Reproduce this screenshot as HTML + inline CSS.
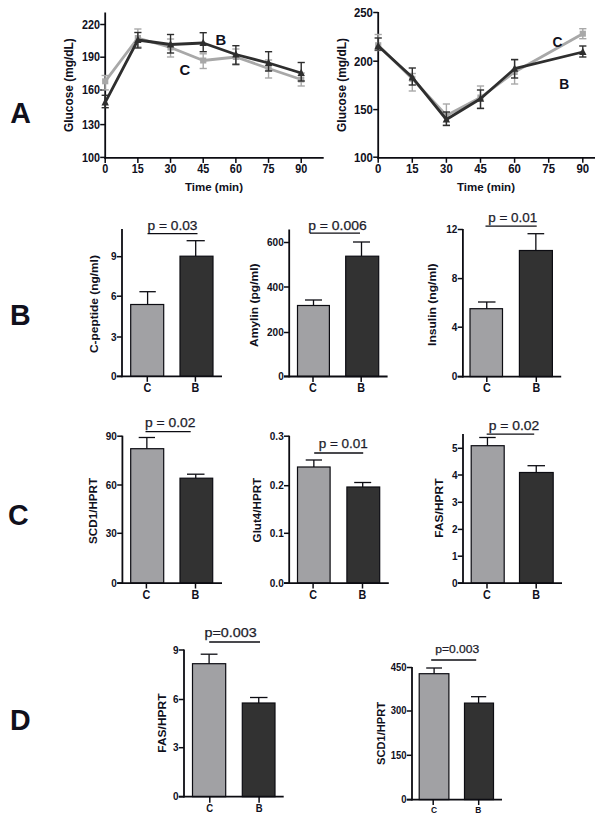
<!DOCTYPE html>
<html lang="en">
<head>
<meta charset="utf-8">
<title>Figure</title>
<style>
html,body{margin:0;padding:0;background:#fff;}
body{width:604px;height:822px;overflow:hidden;}
svg{display:block;font-family:"Liberation Sans", Arial, sans-serif;}
</style>
</head>
<body>
<svg width="604" height="822" viewBox="0 0 604 822">
<rect x="0" y="0" width="604" height="822" fill="#ffffff"/>
<text x="10.3" y="122.6" font-size="28.6" font-weight="bold" text-anchor="start" fill="#10101c">A</text>
<text x="10.0" y="324.7" font-size="28.6" font-weight="bold" text-anchor="start" fill="#10101c">B</text>
<text x="8.0" y="525.0" font-size="28.6" font-weight="bold" text-anchor="start" fill="#10101c">C</text>
<text x="10.0" y="730.2" font-size="28.6" font-weight="bold" text-anchor="start" fill="#10101c">D</text>
<line x1="105.2" y1="12.5" x2="105.2" y2="158.8" stroke="#0c0c12" stroke-width="1.8" stroke-linecap="butt"/>
<line x1="104.3" y1="157.9" x2="323.7" y2="157.9" stroke="#0c0c12" stroke-width="1.8" stroke-linecap="butt"/>
<line x1="100.2" y1="24.5" x2="105.2" y2="24.5" stroke="#0c0c12" stroke-width="1.5" stroke-linecap="butt"/>
<text x="0" y="0" font-size="10.8" font-weight="bold" text-anchor="end" fill="#10101c" transform="translate(99.9 28.712) scale(1 1.1)">220</text>
<line x1="100.2" y1="57.2" x2="105.2" y2="57.2" stroke="#0c0c12" stroke-width="1.5" stroke-linecap="butt"/>
<text x="0" y="0" font-size="10.8" font-weight="bold" text-anchor="end" fill="#10101c" transform="translate(99.9 61.412000000000006) scale(1 1.1)">190</text>
<line x1="100.2" y1="90" x2="105.2" y2="90" stroke="#0c0c12" stroke-width="1.5" stroke-linecap="butt"/>
<text x="0" y="0" font-size="10.8" font-weight="bold" text-anchor="end" fill="#10101c" transform="translate(99.9 94.212) scale(1 1.1)">160</text>
<line x1="100.2" y1="124.6" x2="105.2" y2="124.6" stroke="#0c0c12" stroke-width="1.5" stroke-linecap="butt"/>
<text x="0" y="0" font-size="10.8" font-weight="bold" text-anchor="end" fill="#10101c" transform="translate(99.9 128.81199999999998) scale(1 1.1)">130</text>
<line x1="100.2" y1="157.4" x2="105.2" y2="157.4" stroke="#0c0c12" stroke-width="1.5" stroke-linecap="butt"/>
<text x="0" y="0" font-size="10.8" font-weight="bold" text-anchor="end" fill="#10101c" transform="translate(99.9 161.612) scale(1 1.1)">100</text>
<line x1="105.2" y1="157.9" x2="105.2" y2="162.9" stroke="#0c0c12" stroke-width="1.5" stroke-linecap="butt"/>
<text x="0" y="0" font-size="10.8" font-weight="bold" text-anchor="middle" fill="#10101c" transform="translate(105.2 173.1) scale(1 1.1)">0</text>
<line x1="137.87" y1="157.9" x2="137.87" y2="162.9" stroke="#0c0c12" stroke-width="1.5" stroke-linecap="butt"/>
<text x="0" y="0" font-size="10.8" font-weight="bold" text-anchor="middle" fill="#10101c" transform="translate(137.87 173.1) scale(1 1.1)">15</text>
<line x1="170.54000000000002" y1="157.9" x2="170.54000000000002" y2="162.9" stroke="#0c0c12" stroke-width="1.5" stroke-linecap="butt"/>
<text x="0" y="0" font-size="10.8" font-weight="bold" text-anchor="middle" fill="#10101c" transform="translate(170.54000000000002 173.1) scale(1 1.1)">30</text>
<line x1="203.21" y1="157.9" x2="203.21" y2="162.9" stroke="#0c0c12" stroke-width="1.5" stroke-linecap="butt"/>
<text x="0" y="0" font-size="10.8" font-weight="bold" text-anchor="middle" fill="#10101c" transform="translate(203.21 173.1) scale(1 1.1)">45</text>
<line x1="235.88" y1="157.9" x2="235.88" y2="162.9" stroke="#0c0c12" stroke-width="1.5" stroke-linecap="butt"/>
<text x="0" y="0" font-size="10.8" font-weight="bold" text-anchor="middle" fill="#10101c" transform="translate(235.88 173.1) scale(1 1.1)">60</text>
<line x1="268.55" y1="157.9" x2="268.55" y2="162.9" stroke="#0c0c12" stroke-width="1.5" stroke-linecap="butt"/>
<text x="0" y="0" font-size="10.8" font-weight="bold" text-anchor="middle" fill="#10101c" transform="translate(268.55 173.1) scale(1 1.1)">75</text>
<line x1="301.22" y1="157.9" x2="301.22" y2="162.9" stroke="#0c0c12" stroke-width="1.5" stroke-linecap="butt"/>
<text x="0" y="0" font-size="10.8" font-weight="bold" text-anchor="middle" fill="#10101c" transform="translate(301.22 173.1) scale(1 1.1)">90</text>
<text x="73" y="85.1" font-size="11.9" font-weight="bold" text-anchor="middle" fill="#10101c" transform="rotate(-90 73 85.1)">Glucose (mg/dL)</text>
<text x="214" y="190.9" font-size="11.5" font-weight="bold" text-anchor="middle" fill="#10101c">Time (min)</text>
<polyline points="105.20,81.30 137.87,38.00 170.54,47.50 203.21,60.50 235.88,57.00 268.55,68.50 301.22,79.50" fill="none" stroke="#a8a8a8" stroke-width="2.8" stroke-linejoin="round"/>
<line x1="105.2" y1="75.5" x2="105.2" y2="89.9" stroke="#a8a8a8" stroke-width="1.4" stroke-linecap="butt"/>
<line x1="101.60000000000001" y1="75.5" x2="108.8" y2="75.5" stroke="#a8a8a8" stroke-width="1.4" stroke-linecap="butt"/>
<line x1="101.60000000000001" y1="89.9" x2="108.8" y2="89.9" stroke="#a8a8a8" stroke-width="1.4" stroke-linecap="butt"/>
<rect x="102.10" y="78.30" width="6.2" height="6" fill="#a8a8a8"/>
<line x1="137.87" y1="29" x2="137.87" y2="47" stroke="#a8a8a8" stroke-width="1.4" stroke-linecap="butt"/>
<line x1="134.27" y1="29" x2="141.47" y2="29" stroke="#a8a8a8" stroke-width="1.4" stroke-linecap="butt"/>
<line x1="134.27" y1="47" x2="141.47" y2="47" stroke="#a8a8a8" stroke-width="1.4" stroke-linecap="butt"/>
<rect x="134.77" y="35.00" width="6.2" height="6" fill="#a8a8a8"/>
<line x1="170.54000000000002" y1="39" x2="170.54000000000002" y2="57" stroke="#a8a8a8" stroke-width="1.4" stroke-linecap="butt"/>
<line x1="166.94000000000003" y1="39" x2="174.14000000000001" y2="39" stroke="#a8a8a8" stroke-width="1.4" stroke-linecap="butt"/>
<line x1="166.94000000000003" y1="57" x2="174.14000000000001" y2="57" stroke="#a8a8a8" stroke-width="1.4" stroke-linecap="butt"/>
<rect x="167.44" y="44.50" width="6.2" height="6" fill="#a8a8a8"/>
<line x1="203.21" y1="53.8" x2="203.21" y2="68.5" stroke="#a8a8a8" stroke-width="1.4" stroke-linecap="butt"/>
<line x1="199.61" y1="53.8" x2="206.81" y2="53.8" stroke="#a8a8a8" stroke-width="1.4" stroke-linecap="butt"/>
<line x1="199.61" y1="68.5" x2="206.81" y2="68.5" stroke="#a8a8a8" stroke-width="1.4" stroke-linecap="butt"/>
<rect x="200.11" y="57.50" width="6.2" height="6" fill="#a8a8a8"/>
<line x1="235.88" y1="49" x2="235.88" y2="65" stroke="#a8a8a8" stroke-width="1.4" stroke-linecap="butt"/>
<line x1="232.28" y1="49" x2="239.48" y2="49" stroke="#a8a8a8" stroke-width="1.4" stroke-linecap="butt"/>
<line x1="232.28" y1="65" x2="239.48" y2="65" stroke="#a8a8a8" stroke-width="1.4" stroke-linecap="butt"/>
<rect x="232.78" y="54.00" width="6.2" height="6" fill="#a8a8a8"/>
<line x1="268.55" y1="60" x2="268.55" y2="78" stroke="#a8a8a8" stroke-width="1.4" stroke-linecap="butt"/>
<line x1="264.95" y1="60" x2="272.15000000000003" y2="60" stroke="#a8a8a8" stroke-width="1.4" stroke-linecap="butt"/>
<line x1="264.95" y1="78" x2="272.15000000000003" y2="78" stroke="#a8a8a8" stroke-width="1.4" stroke-linecap="butt"/>
<rect x="265.45" y="65.50" width="6.2" height="6" fill="#a8a8a8"/>
<line x1="301.22" y1="73" x2="301.22" y2="86" stroke="#a8a8a8" stroke-width="1.4" stroke-linecap="butt"/>
<line x1="297.62" y1="73" x2="304.82000000000005" y2="73" stroke="#a8a8a8" stroke-width="1.4" stroke-linecap="butt"/>
<line x1="297.62" y1="86" x2="304.82000000000005" y2="86" stroke="#a8a8a8" stroke-width="1.4" stroke-linecap="butt"/>
<rect x="298.12" y="76.50" width="6.2" height="6" fill="#a8a8a8"/>
<polyline points="105.20,102.40 137.87,40.00 170.54,44.50 203.21,43.00 235.88,54.50 268.55,63.00 301.22,73.00" fill="none" stroke="#2e2e2e" stroke-width="2.8" stroke-linejoin="round"/>
<line x1="105.2" y1="95.3" x2="105.2" y2="107.7" stroke="#2e2e2e" stroke-width="1.4" stroke-linecap="butt"/>
<line x1="101.60000000000001" y1="95.3" x2="108.8" y2="95.3" stroke="#2e2e2e" stroke-width="1.4" stroke-linecap="butt"/>
<line x1="101.60000000000001" y1="107.7" x2="108.8" y2="107.7" stroke="#2e2e2e" stroke-width="1.4" stroke-linecap="butt"/>
<polygon points="105.20,98.10 101.50,105.50 108.90,105.50" fill="#2e2e2e"/>
<line x1="137.87" y1="32.5" x2="137.87" y2="48" stroke="#2e2e2e" stroke-width="1.4" stroke-linecap="butt"/>
<line x1="134.27" y1="32.5" x2="141.47" y2="32.5" stroke="#2e2e2e" stroke-width="1.4" stroke-linecap="butt"/>
<line x1="134.27" y1="48" x2="141.47" y2="48" stroke="#2e2e2e" stroke-width="1.4" stroke-linecap="butt"/>
<polygon points="137.87,35.70 134.17,43.10 141.57,43.10" fill="#2e2e2e"/>
<line x1="170.54000000000002" y1="34.5" x2="170.54000000000002" y2="53" stroke="#2e2e2e" stroke-width="1.4" stroke-linecap="butt"/>
<line x1="166.94000000000003" y1="34.5" x2="174.14000000000001" y2="34.5" stroke="#2e2e2e" stroke-width="1.4" stroke-linecap="butt"/>
<line x1="166.94000000000003" y1="53" x2="174.14000000000001" y2="53" stroke="#2e2e2e" stroke-width="1.4" stroke-linecap="butt"/>
<polygon points="170.54,40.20 166.84,47.60 174.24,47.60" fill="#2e2e2e"/>
<line x1="203.21" y1="32.7" x2="203.21" y2="51.7" stroke="#2e2e2e" stroke-width="1.4" stroke-linecap="butt"/>
<line x1="199.61" y1="32.7" x2="206.81" y2="32.7" stroke="#2e2e2e" stroke-width="1.4" stroke-linecap="butt"/>
<line x1="199.61" y1="51.7" x2="206.81" y2="51.7" stroke="#2e2e2e" stroke-width="1.4" stroke-linecap="butt"/>
<polygon points="203.21,38.70 199.51,46.10 206.91,46.10" fill="#2e2e2e"/>
<line x1="235.88" y1="45.7" x2="235.88" y2="64.2" stroke="#2e2e2e" stroke-width="1.4" stroke-linecap="butt"/>
<line x1="232.28" y1="45.7" x2="239.48" y2="45.7" stroke="#2e2e2e" stroke-width="1.4" stroke-linecap="butt"/>
<line x1="232.28" y1="64.2" x2="239.48" y2="64.2" stroke="#2e2e2e" stroke-width="1.4" stroke-linecap="butt"/>
<polygon points="235.88,50.20 232.18,57.60 239.58,57.60" fill="#2e2e2e"/>
<line x1="268.55" y1="51.7" x2="268.55" y2="71" stroke="#2e2e2e" stroke-width="1.4" stroke-linecap="butt"/>
<line x1="264.95" y1="51.7" x2="272.15000000000003" y2="51.7" stroke="#2e2e2e" stroke-width="1.4" stroke-linecap="butt"/>
<line x1="264.95" y1="71" x2="272.15000000000003" y2="71" stroke="#2e2e2e" stroke-width="1.4" stroke-linecap="butt"/>
<polygon points="268.55,58.70 264.85,66.10 272.25,66.10" fill="#2e2e2e"/>
<line x1="301.22" y1="62.5" x2="301.22" y2="81" stroke="#2e2e2e" stroke-width="1.4" stroke-linecap="butt"/>
<line x1="297.62" y1="62.5" x2="304.82000000000005" y2="62.5" stroke="#2e2e2e" stroke-width="1.4" stroke-linecap="butt"/>
<line x1="297.62" y1="81" x2="304.82000000000005" y2="81" stroke="#2e2e2e" stroke-width="1.4" stroke-linecap="butt"/>
<polygon points="301.22,68.70 297.52,76.10 304.92,76.10" fill="#2e2e2e"/>
<text x="179.6" y="75.3" font-size="14.8" font-weight="bold" text-anchor="start" fill="#10101c">C</text>
<text x="215.4" y="45.4" font-size="14.8" font-weight="bold" text-anchor="start" fill="#10101c">B</text>
<line x1="378.2" y1="12.0" x2="378.2" y2="158.70000000000002" stroke="#0c0c12" stroke-width="1.8" stroke-linecap="butt"/>
<line x1="377.3" y1="157.8" x2="595" y2="157.8" stroke="#0c0c12" stroke-width="1.8" stroke-linecap="butt"/>
<line x1="373.2" y1="12.5" x2="378.2" y2="12.5" stroke="#0c0c12" stroke-width="1.5" stroke-linecap="butt"/>
<text x="0" y="0" font-size="11.4" font-weight="bold" text-anchor="end" fill="#10101c" transform="translate(372.9 16.946) scale(1 1.1)">250</text>
<line x1="373.2" y1="61.2" x2="378.2" y2="61.2" stroke="#0c0c12" stroke-width="1.5" stroke-linecap="butt"/>
<text x="0" y="0" font-size="11.4" font-weight="bold" text-anchor="end" fill="#10101c" transform="translate(372.9 65.646) scale(1 1.1)">200</text>
<line x1="373.2" y1="109.6" x2="378.2" y2="109.6" stroke="#0c0c12" stroke-width="1.5" stroke-linecap="butt"/>
<text x="0" y="0" font-size="11.4" font-weight="bold" text-anchor="end" fill="#10101c" transform="translate(372.9 114.04599999999999) scale(1 1.1)">150</text>
<line x1="373.2" y1="157.2" x2="378.2" y2="157.2" stroke="#0c0c12" stroke-width="1.5" stroke-linecap="butt"/>
<text x="0" y="0" font-size="11.4" font-weight="bold" text-anchor="end" fill="#10101c" transform="translate(372.9 161.646) scale(1 1.1)">100</text>
<line x1="378.2" y1="157.8" x2="378.2" y2="162.8" stroke="#0c0c12" stroke-width="1.5" stroke-linecap="butt"/>
<text x="0" y="0" font-size="11.4" font-weight="bold" text-anchor="middle" fill="#10101c" transform="translate(378.2 173.0) scale(1 1.1)">0</text>
<line x1="412.3" y1="157.8" x2="412.3" y2="162.8" stroke="#0c0c12" stroke-width="1.5" stroke-linecap="butt"/>
<text x="0" y="0" font-size="11.4" font-weight="bold" text-anchor="middle" fill="#10101c" transform="translate(412.3 173.0) scale(1 1.1)">15</text>
<line x1="446.4" y1="157.8" x2="446.4" y2="162.8" stroke="#0c0c12" stroke-width="1.5" stroke-linecap="butt"/>
<text x="0" y="0" font-size="11.4" font-weight="bold" text-anchor="middle" fill="#10101c" transform="translate(446.4 173.0) scale(1 1.1)">30</text>
<line x1="480.5" y1="157.8" x2="480.5" y2="162.8" stroke="#0c0c12" stroke-width="1.5" stroke-linecap="butt"/>
<text x="0" y="0" font-size="11.4" font-weight="bold" text-anchor="middle" fill="#10101c" transform="translate(480.5 173.0) scale(1 1.1)">45</text>
<line x1="514.6" y1="157.8" x2="514.6" y2="162.8" stroke="#0c0c12" stroke-width="1.5" stroke-linecap="butt"/>
<text x="0" y="0" font-size="11.4" font-weight="bold" text-anchor="middle" fill="#10101c" transform="translate(514.6 173.0) scale(1 1.1)">60</text>
<line x1="548.7" y1="157.8" x2="548.7" y2="162.8" stroke="#0c0c12" stroke-width="1.5" stroke-linecap="butt"/>
<text x="0" y="0" font-size="11.4" font-weight="bold" text-anchor="middle" fill="#10101c" transform="translate(548.7 173.0) scale(1 1.1)">75</text>
<line x1="582.8" y1="157.8" x2="582.8" y2="162.8" stroke="#0c0c12" stroke-width="1.5" stroke-linecap="butt"/>
<text x="0" y="0" font-size="11.4" font-weight="bold" text-anchor="middle" fill="#10101c" transform="translate(582.8 173.0) scale(1 1.1)">90</text>
<text x="345.5" y="85" font-size="11.9" font-weight="bold" text-anchor="middle" fill="#10101c" transform="rotate(-90 345.5 85)">Glucose (mg/dL)</text>
<text x="486" y="190.9" font-size="11.5" font-weight="bold" text-anchor="middle" fill="#10101c">Time (min)</text>
<polyline points="378.20,45.20 412.30,78.80 446.40,115.50 480.50,97.50 514.60,72.00 582.80,33.70" fill="none" stroke="#a8a8a8" stroke-width="2.8" stroke-linejoin="round"/>
<line x1="378.2" y1="34.5" x2="378.2" y2="50.5" stroke="#a8a8a8" stroke-width="1.4" stroke-linecap="butt"/>
<line x1="374.59999999999997" y1="34.5" x2="381.8" y2="34.5" stroke="#a8a8a8" stroke-width="1.4" stroke-linecap="butt"/>
<line x1="374.59999999999997" y1="50.5" x2="381.8" y2="50.5" stroke="#a8a8a8" stroke-width="1.4" stroke-linecap="butt"/>
<rect x="375.10" y="42.20" width="6.2" height="6" fill="#a8a8a8"/>
<line x1="412.3" y1="73.5" x2="412.3" y2="91" stroke="#a8a8a8" stroke-width="1.4" stroke-linecap="butt"/>
<line x1="408.7" y1="73.5" x2="415.90000000000003" y2="73.5" stroke="#a8a8a8" stroke-width="1.4" stroke-linecap="butt"/>
<line x1="408.7" y1="91" x2="415.90000000000003" y2="91" stroke="#a8a8a8" stroke-width="1.4" stroke-linecap="butt"/>
<rect x="409.20" y="75.80" width="6.2" height="6" fill="#a8a8a8"/>
<line x1="446.4" y1="104" x2="446.4" y2="125" stroke="#a8a8a8" stroke-width="1.4" stroke-linecap="butt"/>
<line x1="442.79999999999995" y1="104" x2="450.0" y2="104" stroke="#a8a8a8" stroke-width="1.4" stroke-linecap="butt"/>
<line x1="442.79999999999995" y1="125" x2="450.0" y2="125" stroke="#a8a8a8" stroke-width="1.4" stroke-linecap="butt"/>
<rect x="443.30" y="112.50" width="6.2" height="6" fill="#a8a8a8"/>
<line x1="480.5" y1="86" x2="480.5" y2="108" stroke="#a8a8a8" stroke-width="1.4" stroke-linecap="butt"/>
<line x1="476.9" y1="86" x2="484.1" y2="86" stroke="#a8a8a8" stroke-width="1.4" stroke-linecap="butt"/>
<line x1="476.9" y1="108" x2="484.1" y2="108" stroke="#a8a8a8" stroke-width="1.4" stroke-linecap="butt"/>
<rect x="477.40" y="94.50" width="6.2" height="6" fill="#a8a8a8"/>
<line x1="514.6" y1="60" x2="514.6" y2="84" stroke="#a8a8a8" stroke-width="1.4" stroke-linecap="butt"/>
<line x1="511.0" y1="60" x2="518.2" y2="60" stroke="#a8a8a8" stroke-width="1.4" stroke-linecap="butt"/>
<line x1="511.0" y1="84" x2="518.2" y2="84" stroke="#a8a8a8" stroke-width="1.4" stroke-linecap="butt"/>
<rect x="511.50" y="69.00" width="6.2" height="6" fill="#a8a8a8"/>
<line x1="582.8" y1="28.7" x2="582.8" y2="38.7" stroke="#a8a8a8" stroke-width="1.4" stroke-linecap="butt"/>
<line x1="579.1999999999999" y1="28.7" x2="586.4" y2="28.7" stroke="#a8a8a8" stroke-width="1.4" stroke-linecap="butt"/>
<line x1="579.1999999999999" y1="38.7" x2="586.4" y2="38.7" stroke="#a8a8a8" stroke-width="1.4" stroke-linecap="butt"/>
<rect x="579.70" y="30.70" width="6.2" height="6" fill="#a8a8a8"/>
<polyline points="378.20,46.00 412.30,77.30 446.40,119.50 480.50,98.70 514.60,68.70 582.80,52.00" fill="none" stroke="#2e2e2e" stroke-width="2.8" stroke-linejoin="round"/>
<line x1="378.2" y1="38" x2="378.2" y2="50" stroke="#2e2e2e" stroke-width="1.4" stroke-linecap="butt"/>
<line x1="374.59999999999997" y1="38" x2="381.8" y2="38" stroke="#2e2e2e" stroke-width="1.4" stroke-linecap="butt"/>
<line x1="374.59999999999997" y1="50" x2="381.8" y2="50" stroke="#2e2e2e" stroke-width="1.4" stroke-linecap="butt"/>
<polygon points="378.20,41.70 374.50,49.10 381.90,49.10" fill="#2e2e2e"/>
<line x1="412.3" y1="68" x2="412.3" y2="85" stroke="#2e2e2e" stroke-width="1.4" stroke-linecap="butt"/>
<line x1="408.7" y1="68" x2="415.90000000000003" y2="68" stroke="#2e2e2e" stroke-width="1.4" stroke-linecap="butt"/>
<line x1="408.7" y1="85" x2="415.90000000000003" y2="85" stroke="#2e2e2e" stroke-width="1.4" stroke-linecap="butt"/>
<polygon points="412.30,73.00 408.60,80.40 416.00,80.40" fill="#2e2e2e"/>
<line x1="446.4" y1="112" x2="446.4" y2="125.5" stroke="#2e2e2e" stroke-width="1.4" stroke-linecap="butt"/>
<line x1="442.79999999999995" y1="112" x2="450.0" y2="112" stroke="#2e2e2e" stroke-width="1.4" stroke-linecap="butt"/>
<line x1="442.79999999999995" y1="125.5" x2="450.0" y2="125.5" stroke="#2e2e2e" stroke-width="1.4" stroke-linecap="butt"/>
<polygon points="446.40,115.20 442.70,122.60 450.10,122.60" fill="#2e2e2e"/>
<line x1="480.5" y1="90" x2="480.5" y2="108.5" stroke="#2e2e2e" stroke-width="1.4" stroke-linecap="butt"/>
<line x1="476.9" y1="90" x2="484.1" y2="90" stroke="#2e2e2e" stroke-width="1.4" stroke-linecap="butt"/>
<line x1="476.9" y1="108.5" x2="484.1" y2="108.5" stroke="#2e2e2e" stroke-width="1.4" stroke-linecap="butt"/>
<polygon points="480.50,94.40 476.80,101.80 484.20,101.80" fill="#2e2e2e"/>
<line x1="514.6" y1="59.5" x2="514.6" y2="78" stroke="#2e2e2e" stroke-width="1.4" stroke-linecap="butt"/>
<line x1="511.0" y1="59.5" x2="518.2" y2="59.5" stroke="#2e2e2e" stroke-width="1.4" stroke-linecap="butt"/>
<line x1="511.0" y1="78" x2="518.2" y2="78" stroke="#2e2e2e" stroke-width="1.4" stroke-linecap="butt"/>
<polygon points="514.60,64.40 510.90,71.80 518.30,71.80" fill="#2e2e2e"/>
<line x1="582.8" y1="46" x2="582.8" y2="57" stroke="#2e2e2e" stroke-width="1.4" stroke-linecap="butt"/>
<line x1="579.1999999999999" y1="46" x2="586.4" y2="46" stroke="#2e2e2e" stroke-width="1.4" stroke-linecap="butt"/>
<line x1="579.1999999999999" y1="57" x2="586.4" y2="57" stroke="#2e2e2e" stroke-width="1.4" stroke-linecap="butt"/>
<polygon points="582.80,47.70 579.10,55.10 586.50,55.10" fill="#2e2e2e"/>
<text x="552.6" y="47.0" font-size="13.8" font-weight="bold" text-anchor="start" fill="#10101c">C</text>
<text x="559.2" y="89.1" font-size="13.8" font-weight="bold" text-anchor="start" fill="#10101c">B</text>
<line x1="147.60000000000002" y1="291.7" x2="147.60000000000002" y2="304.5" stroke="#0c0c12" stroke-width="1.3" stroke-linecap="butt"/>
<line x1="139.4" y1="291.7" x2="155.8" y2="291.7" stroke="#0c0c12" stroke-width="1.3" stroke-linecap="butt"/>
<rect x="130.7" y="304.5" width="33.00" height="71.90" fill="#a1a1a4" stroke="#0c0c12" stroke-width="1.2"/>
<line x1="195.7" y1="240.7" x2="195.7" y2="256.2" stroke="#0c0c12" stroke-width="1.3" stroke-linecap="butt"/>
<line x1="186.6" y1="240.7" x2="204.8" y2="240.7" stroke="#0c0c12" stroke-width="1.3" stroke-linecap="butt"/>
<rect x="180" y="256.2" width="33.00" height="120.20" fill="#323232" stroke="#0c0c12" stroke-width="1.2"/>
<line x1="122" y1="229.0" x2="122" y2="377.29999999999995" stroke="#0c0c12" stroke-width="1.8" stroke-linecap="butt"/>
<line x1="116.8" y1="376.4" x2="222" y2="376.4" stroke="#0c0c12" stroke-width="1.8" stroke-linecap="butt"/>
<line x1="116.8" y1="256.7" x2="122" y2="256.7" stroke="#0c0c12" stroke-width="1.5" stroke-linecap="butt"/>
<text x="0" y="0" font-size="10" font-weight="bold" text-anchor="end" fill="#10101c" transform="translate(116.5 260.29999999999995) scale(1 1.1)">9</text>
<line x1="116.8" y1="296.2" x2="122" y2="296.2" stroke="#0c0c12" stroke-width="1.5" stroke-linecap="butt"/>
<text x="0" y="0" font-size="10" font-weight="bold" text-anchor="end" fill="#10101c" transform="translate(116.5 299.79999999999995) scale(1 1.1)">6</text>
<line x1="116.8" y1="337" x2="122" y2="337" stroke="#0c0c12" stroke-width="1.5" stroke-linecap="butt"/>
<text x="0" y="0" font-size="10" font-weight="bold" text-anchor="end" fill="#10101c" transform="translate(116.5 340.59999999999997) scale(1 1.1)">3</text>
<line x1="116.8" y1="376.4" x2="122" y2="376.4" stroke="#0c0c12" stroke-width="1.5" stroke-linecap="butt"/>
<text x="0" y="0" font-size="10" font-weight="bold" text-anchor="end" fill="#10101c" transform="translate(116.5 379.99999999999994) scale(1 1.1)">0</text>
<line x1="147.3" y1="376.4" x2="147.3" y2="381.79999999999995" stroke="#0c0c12" stroke-width="1.5" stroke-linecap="butt"/>
<text x="0" y="0" font-size="10.8" font-weight="bold" text-anchor="middle" fill="#10101c" transform="translate(147.3 391.79999999999995) scale(1 1.12)">C</text>
<line x1="195.4" y1="376.4" x2="195.4" y2="381.79999999999995" stroke="#0c0c12" stroke-width="1.5" stroke-linecap="butt"/>
<text x="0" y="0" font-size="10.8" font-weight="bold" text-anchor="middle" fill="#10101c" transform="translate(195.4 391.79999999999995) scale(1 1.12)">B</text>
<text x="98.5" y="304.1" font-size="11.3" font-weight="bold" text-anchor="middle" fill="#10101c" transform="rotate(-90 98.5 304.1)" textLength="98" lengthAdjust="spacingAndGlyphs">C-peptide (ng/ml)</text>
<text x="147.5" y="230" font-size="13.2" font-weight="normal" text-anchor="start" fill="#1c1c2a" textLength="50" lengthAdjust="spacingAndGlyphs" stroke="#1c1c2a" stroke-width="0.25">p = 0.03</text>
<line x1="147.5" y1="233.7" x2="197.5" y2="233.7" stroke="#0c0c12" stroke-width="1.3" stroke-linecap="butt"/>
<line x1="313.5" y1="300" x2="313.5" y2="305.5" stroke="#0c0c12" stroke-width="1.3" stroke-linecap="butt"/>
<line x1="305" y1="300" x2="322" y2="300" stroke="#0c0c12" stroke-width="1.3" stroke-linecap="butt"/>
<rect x="297.5" y="305.5" width="31.90" height="71.00" fill="#a1a1a4" stroke="#0c0c12" stroke-width="1.2"/>
<line x1="361.5" y1="242" x2="361.5" y2="256.2" stroke="#0c0c12" stroke-width="1.3" stroke-linecap="butt"/>
<line x1="353" y1="242" x2="370" y2="242" stroke="#0c0c12" stroke-width="1.3" stroke-linecap="butt"/>
<rect x="345.7" y="256.2" width="33.00" height="120.30" fill="#323232" stroke="#0c0c12" stroke-width="1.2"/>
<line x1="289.2" y1="229.5" x2="289.2" y2="377.4" stroke="#0c0c12" stroke-width="1.8" stroke-linecap="butt"/>
<line x1="284.0" y1="376.5" x2="387.6" y2="376.5" stroke="#0c0c12" stroke-width="1.8" stroke-linecap="butt"/>
<line x1="284.0" y1="242.5" x2="289.2" y2="242.5" stroke="#0c0c12" stroke-width="1.5" stroke-linecap="butt"/>
<text x="0" y="0" font-size="10" font-weight="bold" text-anchor="end" fill="#10101c" transform="translate(283.7 246.1) scale(1 1.1)">600</text>
<line x1="284.0" y1="287" x2="289.2" y2="287" stroke="#0c0c12" stroke-width="1.5" stroke-linecap="butt"/>
<text x="0" y="0" font-size="10" font-weight="bold" text-anchor="end" fill="#10101c" transform="translate(283.7 290.59999999999997) scale(1 1.1)">400</text>
<line x1="284.0" y1="332.5" x2="289.2" y2="332.5" stroke="#0c0c12" stroke-width="1.5" stroke-linecap="butt"/>
<text x="0" y="0" font-size="10" font-weight="bold" text-anchor="end" fill="#10101c" transform="translate(283.7 336.09999999999997) scale(1 1.1)">200</text>
<line x1="284.0" y1="376.4" x2="289.2" y2="376.4" stroke="#0c0c12" stroke-width="1.5" stroke-linecap="butt"/>
<text x="0" y="0" font-size="10" font-weight="bold" text-anchor="end" fill="#10101c" transform="translate(283.7 379.99999999999994) scale(1 1.1)">0</text>
<line x1="313.0" y1="376.5" x2="313.0" y2="381.9" stroke="#0c0c12" stroke-width="1.5" stroke-linecap="butt"/>
<text x="0" y="0" font-size="10.8" font-weight="bold" text-anchor="middle" fill="#10101c" transform="translate(313.0 391.9) scale(1 1.12)">C</text>
<line x1="361.2" y1="376.5" x2="361.2" y2="381.9" stroke="#0c0c12" stroke-width="1.5" stroke-linecap="butt"/>
<text x="0" y="0" font-size="10.8" font-weight="bold" text-anchor="middle" fill="#10101c" transform="translate(361.2 391.9) scale(1 1.12)">B</text>
<text x="258.3" y="305.2" font-size="11.3" font-weight="bold" text-anchor="middle" fill="#10101c" transform="rotate(-90 258.3 305.2)" textLength="83.5" lengthAdjust="spacingAndGlyphs">Amylin (pg/ml)</text>
<text x="308.2" y="229.5" font-size="13.2" font-weight="normal" text-anchor="start" fill="#1c1c2a" textLength="58.5" lengthAdjust="spacingAndGlyphs" stroke="#1c1c2a" stroke-width="0.25">p = 0.006</text>
<line x1="310" y1="233.2" x2="360" y2="233.2" stroke="#0c0c12" stroke-width="1.3" stroke-linecap="butt"/>
<line x1="486.75" y1="302" x2="486.75" y2="308.7" stroke="#0c0c12" stroke-width="1.3" stroke-linecap="butt"/>
<line x1="478" y1="302" x2="495.5" y2="302" stroke="#0c0c12" stroke-width="1.3" stroke-linecap="butt"/>
<rect x="470" y="308.7" width="32.50" height="67.90" fill="#a1a1a4" stroke="#0c0c12" stroke-width="1.2"/>
<line x1="535.85" y1="233.7" x2="535.85" y2="250.5" stroke="#0c0c12" stroke-width="1.3" stroke-linecap="butt"/>
<line x1="527.5" y1="233.7" x2="544.2" y2="233.7" stroke="#0c0c12" stroke-width="1.3" stroke-linecap="butt"/>
<rect x="519.4" y="250.5" width="33.00" height="126.10" fill="#323232" stroke="#0c0c12" stroke-width="1.2"/>
<line x1="462.9" y1="229.0" x2="462.9" y2="377.5" stroke="#0c0c12" stroke-width="1.8" stroke-linecap="butt"/>
<line x1="457.7" y1="376.6" x2="561.2" y2="376.6" stroke="#0c0c12" stroke-width="1.8" stroke-linecap="butt"/>
<line x1="457.7" y1="229.5" x2="462.9" y2="229.5" stroke="#0c0c12" stroke-width="1.5" stroke-linecap="butt"/>
<text x="0" y="0" font-size="10" font-weight="bold" text-anchor="end" fill="#10101c" transform="translate(457.4 233.1) scale(1 1.1)">12</text>
<line x1="457.7" y1="278.6" x2="462.9" y2="278.6" stroke="#0c0c12" stroke-width="1.5" stroke-linecap="butt"/>
<text x="0" y="0" font-size="10" font-weight="bold" text-anchor="end" fill="#10101c" transform="translate(457.4 282.2) scale(1 1.1)">8</text>
<line x1="457.7" y1="327.2" x2="462.9" y2="327.2" stroke="#0c0c12" stroke-width="1.5" stroke-linecap="butt"/>
<text x="0" y="0" font-size="10" font-weight="bold" text-anchor="end" fill="#10101c" transform="translate(457.4 330.79999999999995) scale(1 1.1)">4</text>
<line x1="457.7" y1="376.6" x2="462.9" y2="376.6" stroke="#0c0c12" stroke-width="1.5" stroke-linecap="butt"/>
<text x="0" y="0" font-size="10" font-weight="bold" text-anchor="end" fill="#10101c" transform="translate(457.4 380.2) scale(1 1.1)">0</text>
<line x1="486.8" y1="376.6" x2="486.8" y2="382.0" stroke="#0c0c12" stroke-width="1.5" stroke-linecap="butt"/>
<text x="0" y="0" font-size="10.8" font-weight="bold" text-anchor="middle" fill="#10101c" transform="translate(486.8 392.0) scale(1 1.12)">C</text>
<line x1="536.3" y1="376.6" x2="536.3" y2="382.0" stroke="#0c0c12" stroke-width="1.5" stroke-linecap="butt"/>
<text x="0" y="0" font-size="10.8" font-weight="bold" text-anchor="middle" fill="#10101c" transform="translate(536.3 392.0) scale(1 1.12)">B</text>
<text x="436.5" y="304.7" font-size="11.3" font-weight="bold" text-anchor="middle" fill="#10101c" transform="rotate(-90 436.5 304.7)" textLength="82.5" lengthAdjust="spacingAndGlyphs">Insulin (ng/ml)</text>
<text x="488.2" y="222" font-size="13.2" font-weight="normal" text-anchor="start" fill="#1c1c2a" textLength="49" lengthAdjust="spacingAndGlyphs" stroke="#1c1c2a" stroke-width="0.25">p = 0.01</text>
<line x1="485.5" y1="226.2" x2="536.7" y2="226.2" stroke="#0c0c12" stroke-width="1.3" stroke-linecap="butt"/>
<line x1="146.85" y1="437.5" x2="146.85" y2="448.7" stroke="#0c0c12" stroke-width="1.3" stroke-linecap="butt"/>
<line x1="138.7" y1="437.5" x2="155" y2="437.5" stroke="#0c0c12" stroke-width="1.3" stroke-linecap="butt"/>
<rect x="130.7" y="448.7" width="33.00" height="134.40" fill="#a1a1a4" stroke="#0c0c12" stroke-width="1.2"/>
<line x1="195.75" y1="474.2" x2="195.75" y2="478.2" stroke="#0c0c12" stroke-width="1.3" stroke-linecap="butt"/>
<line x1="187" y1="474.2" x2="204.5" y2="474.2" stroke="#0c0c12" stroke-width="1.3" stroke-linecap="butt"/>
<rect x="180" y="478.2" width="32.70" height="104.90" fill="#323232" stroke="#0c0c12" stroke-width="1.2"/>
<line x1="122.4" y1="435.7" x2="122.4" y2="584.0" stroke="#0c0c12" stroke-width="1.8" stroke-linecap="butt"/>
<line x1="117.2" y1="583.1" x2="222" y2="583.1" stroke="#0c0c12" stroke-width="1.8" stroke-linecap="butt"/>
<line x1="117.2" y1="436.2" x2="122.4" y2="436.2" stroke="#0c0c12" stroke-width="1.5" stroke-linecap="butt"/>
<text x="0" y="0" font-size="10" font-weight="bold" text-anchor="end" fill="#10101c" transform="translate(116.9 439.79999999999995) scale(1 1.1)">90</text>
<line x1="117.2" y1="485" x2="122.4" y2="485" stroke="#0c0c12" stroke-width="1.5" stroke-linecap="butt"/>
<text x="0" y="0" font-size="10" font-weight="bold" text-anchor="end" fill="#10101c" transform="translate(116.9 488.59999999999997) scale(1 1.1)">60</text>
<line x1="117.2" y1="533.3" x2="122.4" y2="533.3" stroke="#0c0c12" stroke-width="1.5" stroke-linecap="butt"/>
<text x="0" y="0" font-size="10" font-weight="bold" text-anchor="end" fill="#10101c" transform="translate(116.9 536.9) scale(1 1.1)">30</text>
<line x1="117.2" y1="583.1" x2="122.4" y2="583.1" stroke="#0c0c12" stroke-width="1.5" stroke-linecap="butt"/>
<text x="0" y="0" font-size="10" font-weight="bold" text-anchor="end" fill="#10101c" transform="translate(116.9 586.7) scale(1 1.1)">0</text>
<line x1="146.4" y1="583.1" x2="146.4" y2="588.5" stroke="#0c0c12" stroke-width="1.5" stroke-linecap="butt"/>
<text x="0" y="0" font-size="10.8" font-weight="bold" text-anchor="middle" fill="#10101c" transform="translate(146.4 598.5) scale(1 1.12)">C</text>
<line x1="195.5" y1="583.1" x2="195.5" y2="588.5" stroke="#0c0c12" stroke-width="1.5" stroke-linecap="butt"/>
<text x="0" y="0" font-size="10.8" font-weight="bold" text-anchor="middle" fill="#10101c" transform="translate(195.5 598.5) scale(1 1.12)">B</text>
<text x="96.7" y="510.9" font-size="11.3" font-weight="bold" text-anchor="middle" fill="#10101c" transform="rotate(-90 96.7 510.9)" textLength="66" lengthAdjust="spacingAndGlyphs">SCD1/HPRT</text>
<text x="145.0" y="427" font-size="13.2" font-weight="normal" text-anchor="start" fill="#1c1c2a" textLength="50.5" lengthAdjust="spacingAndGlyphs" stroke="#1c1c2a" stroke-width="0.25">p = 0.02</text>
<line x1="145.5" y1="431.7" x2="190.7" y2="431.7" stroke="#0c0c12" stroke-width="1.3" stroke-linecap="butt"/>
<line x1="313.85" y1="460" x2="313.85" y2="467" stroke="#0c0c12" stroke-width="1.3" stroke-linecap="butt"/>
<line x1="305.7" y1="460" x2="322" y2="460" stroke="#0c0c12" stroke-width="1.3" stroke-linecap="butt"/>
<rect x="297.5" y="467" width="32.60" height="116.10" fill="#a1a1a4" stroke="#0c0c12" stroke-width="1.2"/>
<line x1="362.7" y1="482.5" x2="362.7" y2="487" stroke="#0c0c12" stroke-width="1.3" stroke-linecap="butt"/>
<line x1="354.2" y1="482.5" x2="371.2" y2="482.5" stroke="#0c0c12" stroke-width="1.3" stroke-linecap="butt"/>
<rect x="346.9" y="487" width="32.80" height="96.10" fill="#323232" stroke="#0c0c12" stroke-width="1.2"/>
<line x1="289.2" y1="435.7" x2="289.2" y2="584.0" stroke="#0c0c12" stroke-width="1.8" stroke-linecap="butt"/>
<line x1="284.0" y1="583.1" x2="388.8" y2="583.1" stroke="#0c0c12" stroke-width="1.8" stroke-linecap="butt"/>
<line x1="284.0" y1="436.2" x2="289.2" y2="436.2" stroke="#0c0c12" stroke-width="1.5" stroke-linecap="butt"/>
<text x="0" y="0" font-size="10" font-weight="bold" text-anchor="end" fill="#10101c" transform="translate(283.7 439.79999999999995) scale(1 1.1)">0.3</text>
<line x1="284.0" y1="485.7" x2="289.2" y2="485.7" stroke="#0c0c12" stroke-width="1.5" stroke-linecap="butt"/>
<text x="0" y="0" font-size="10" font-weight="bold" text-anchor="end" fill="#10101c" transform="translate(283.7 489.29999999999995) scale(1 1.1)">0.2</text>
<line x1="284.0" y1="533.3" x2="289.2" y2="533.3" stroke="#0c0c12" stroke-width="1.5" stroke-linecap="butt"/>
<text x="0" y="0" font-size="10" font-weight="bold" text-anchor="end" fill="#10101c" transform="translate(283.7 536.9) scale(1 1.1)">0.1</text>
<line x1="284.0" y1="583.1" x2="289.2" y2="583.1" stroke="#0c0c12" stroke-width="1.5" stroke-linecap="butt"/>
<text x="0" y="0" font-size="10" font-weight="bold" text-anchor="end" fill="#10101c" transform="translate(283.7 586.7) scale(1 1.1)">0.0</text>
<line x1="313.1" y1="583.1" x2="313.1" y2="588.5" stroke="#0c0c12" stroke-width="1.5" stroke-linecap="butt"/>
<text x="0" y="0" font-size="10.8" font-weight="bold" text-anchor="middle" fill="#10101c" transform="translate(313.1 598.5) scale(1 1.12)">C</text>
<line x1="362.5" y1="583.1" x2="362.5" y2="588.5" stroke="#0c0c12" stroke-width="1.5" stroke-linecap="butt"/>
<text x="0" y="0" font-size="10.8" font-weight="bold" text-anchor="middle" fill="#10101c" transform="translate(362.5 598.5) scale(1 1.12)">B</text>
<text x="261" y="510.1" font-size="11.3" font-weight="bold" text-anchor="middle" fill="#10101c" transform="rotate(-90 261 510.1)" textLength="64.6" lengthAdjust="spacingAndGlyphs">Glut4/HPRT</text>
<text x="318.7" y="447.5" font-size="13.2" font-weight="normal" text-anchor="start" fill="#1c1c2a" textLength="49.2" lengthAdjust="spacingAndGlyphs" stroke="#1c1c2a" stroke-width="0.25">p = 0.01</text>
<line x1="314.2" y1="453" x2="363.2" y2="453" stroke="#0c0c12" stroke-width="1.3" stroke-linecap="butt"/>
<line x1="487.45" y1="437.5" x2="487.45" y2="445.7" stroke="#0c0c12" stroke-width="1.3" stroke-linecap="butt"/>
<line x1="479.2" y1="437.5" x2="495.7" y2="437.5" stroke="#0c0c12" stroke-width="1.3" stroke-linecap="butt"/>
<rect x="471.2" y="445.7" width="33.00" height="137.40" fill="#a1a1a4" stroke="#0c0c12" stroke-width="1.2"/>
<line x1="536.25" y1="465.7" x2="536.25" y2="472.5" stroke="#0c0c12" stroke-width="1.3" stroke-linecap="butt"/>
<line x1="527.5" y1="465.7" x2="545" y2="465.7" stroke="#0c0c12" stroke-width="1.3" stroke-linecap="butt"/>
<rect x="519.5" y="472.5" width="33.70" height="110.60" fill="#323232" stroke="#0c0c12" stroke-width="1.2"/>
<line x1="463" y1="434.0" x2="463" y2="584.0" stroke="#0c0c12" stroke-width="1.8" stroke-linecap="butt"/>
<line x1="457.8" y1="583.1" x2="562" y2="583.1" stroke="#0c0c12" stroke-width="1.8" stroke-linecap="butt"/>
<line x1="457.8" y1="448.3" x2="463" y2="448.3" stroke="#0c0c12" stroke-width="1.5" stroke-linecap="butt"/>
<text x="0" y="0" font-size="10" font-weight="bold" text-anchor="end" fill="#10101c" transform="translate(457.5 451.9) scale(1 1.1)">5</text>
<line x1="457.8" y1="475" x2="463" y2="475" stroke="#0c0c12" stroke-width="1.5" stroke-linecap="butt"/>
<text x="0" y="0" font-size="10" font-weight="bold" text-anchor="end" fill="#10101c" transform="translate(457.5 478.59999999999997) scale(1 1.1)">4</text>
<line x1="457.8" y1="502.3" x2="463" y2="502.3" stroke="#0c0c12" stroke-width="1.5" stroke-linecap="butt"/>
<text x="0" y="0" font-size="10" font-weight="bold" text-anchor="end" fill="#10101c" transform="translate(457.5 505.9) scale(1 1.1)">3</text>
<line x1="457.8" y1="529.4" x2="463" y2="529.4" stroke="#0c0c12" stroke-width="1.5" stroke-linecap="butt"/>
<text x="0" y="0" font-size="10" font-weight="bold" text-anchor="end" fill="#10101c" transform="translate(457.5 533.0) scale(1 1.1)">2</text>
<line x1="457.8" y1="556.2" x2="463" y2="556.2" stroke="#0c0c12" stroke-width="1.5" stroke-linecap="butt"/>
<text x="0" y="0" font-size="10" font-weight="bold" text-anchor="end" fill="#10101c" transform="translate(457.5 559.8000000000001) scale(1 1.1)">1</text>
<line x1="457.8" y1="583.1" x2="463" y2="583.1" stroke="#0c0c12" stroke-width="1.5" stroke-linecap="butt"/>
<text x="0" y="0" font-size="10" font-weight="bold" text-anchor="end" fill="#10101c" transform="translate(457.5 586.7) scale(1 1.1)">0</text>
<line x1="487" y1="583.1" x2="487" y2="588.5" stroke="#0c0c12" stroke-width="1.5" stroke-linecap="butt"/>
<text x="0" y="0" font-size="10.8" font-weight="bold" text-anchor="middle" fill="#10101c" transform="translate(487 598.5) scale(1 1.12)">C</text>
<line x1="536.2" y1="583.1" x2="536.2" y2="588.5" stroke="#0c0c12" stroke-width="1.5" stroke-linecap="butt"/>
<text x="0" y="0" font-size="10.8" font-weight="bold" text-anchor="middle" fill="#10101c" transform="translate(536.2 598.5) scale(1 1.12)">B</text>
<text x="443" y="508.1" font-size="11.3" font-weight="bold" text-anchor="middle" fill="#10101c" transform="rotate(-90 443 508.1)" textLength="59.2" lengthAdjust="spacingAndGlyphs">FAS/HPRT</text>
<text x="488.7" y="429.5" font-size="13.2" font-weight="normal" text-anchor="start" fill="#1c1c2a" textLength="50.5" lengthAdjust="spacingAndGlyphs" stroke="#1c1c2a" stroke-width="0.25">p = 0.02</text>
<line x1="486.7" y1="434.2" x2="534.2" y2="434.2" stroke="#0c0c12" stroke-width="1.3" stroke-linecap="butt"/>
<line x1="209.1" y1="654.2" x2="209.1" y2="663.7" stroke="#0c0c12" stroke-width="1.3" stroke-linecap="butt"/>
<line x1="200.7" y1="654.2" x2="217.5" y2="654.2" stroke="#0c0c12" stroke-width="1.3" stroke-linecap="butt"/>
<rect x="192.5" y="663.7" width="33.20" height="133.00" fill="#a1a1a4" stroke="#0c0c12" stroke-width="1.2"/>
<line x1="258.75" y1="697.5" x2="258.75" y2="703" stroke="#0c0c12" stroke-width="1.3" stroke-linecap="butt"/>
<line x1="250" y1="697.5" x2="267.5" y2="697.5" stroke="#0c0c12" stroke-width="1.3" stroke-linecap="butt"/>
<rect x="242.3" y="703" width="32.70" height="93.70" fill="#323232" stroke="#0c0c12" stroke-width="1.2"/>
<line x1="184.0" y1="649.5" x2="184.0" y2="797.6" stroke="#0c0c12" stroke-width="1.8" stroke-linecap="butt"/>
<line x1="178.8" y1="796.7" x2="283.7" y2="796.7" stroke="#0c0c12" stroke-width="1.8" stroke-linecap="butt"/>
<line x1="178.8" y1="650" x2="184.0" y2="650" stroke="#0c0c12" stroke-width="1.5" stroke-linecap="butt"/>
<text x="0" y="0" font-size="10" font-weight="bold" text-anchor="end" fill="#10101c" transform="translate(178.5 653.6) scale(1 1.1)">9</text>
<line x1="178.8" y1="699.5" x2="184.0" y2="699.5" stroke="#0c0c12" stroke-width="1.5" stroke-linecap="butt"/>
<text x="0" y="0" font-size="10" font-weight="bold" text-anchor="end" fill="#10101c" transform="translate(178.5 703.1) scale(1 1.1)">6</text>
<line x1="178.8" y1="747.7" x2="184.0" y2="747.7" stroke="#0c0c12" stroke-width="1.5" stroke-linecap="butt"/>
<text x="0" y="0" font-size="10" font-weight="bold" text-anchor="end" fill="#10101c" transform="translate(178.5 751.3000000000001) scale(1 1.1)">3</text>
<line x1="178.8" y1="796.7" x2="184.0" y2="796.7" stroke="#0c0c12" stroke-width="1.5" stroke-linecap="butt"/>
<text x="0" y="0" font-size="10" font-weight="bold" text-anchor="end" fill="#10101c" transform="translate(178.5 800.3000000000001) scale(1 1.1)">0</text>
<line x1="209.8" y1="796.7" x2="209.8" y2="802.7" stroke="#0c0c12" stroke-width="1.5" stroke-linecap="butt"/>
<text x="0" y="0" font-size="9.5" font-weight="bold" text-anchor="middle" fill="#10101c" transform="translate(209.8 811.7) scale(1 1.12)">C</text>
<line x1="259.1" y1="796.7" x2="259.1" y2="802.7" stroke="#0c0c12" stroke-width="1.5" stroke-linecap="butt"/>
<text x="0" y="0" font-size="9.5" font-weight="bold" text-anchor="middle" fill="#10101c" transform="translate(259.1 811.7) scale(1 1.12)">B</text>
<text x="166.4" y="723.1" font-size="11.3" font-weight="bold" text-anchor="middle" fill="#10101c" transform="rotate(-90 166.4 723.1)" textLength="59.2" lengthAdjust="spacingAndGlyphs">FAS/HPRT</text>
<text x="204.5" y="637" font-size="12.4" font-weight="normal" text-anchor="start" fill="#1c1c2a" textLength="52.2" lengthAdjust="spacingAndGlyphs" stroke="#1c1c2a" stroke-width="0.25">p=0.003</text>
<line x1="209.2" y1="642" x2="260" y2="642" stroke="#0c0c12" stroke-width="1.3" stroke-linecap="butt"/>
<line x1="434.1" y1="668" x2="434.1" y2="673.7" stroke="#0c0c12" stroke-width="1.3" stroke-linecap="butt"/>
<line x1="426.2" y1="668" x2="442" y2="668" stroke="#0c0c12" stroke-width="1.3" stroke-linecap="butt"/>
<rect x="419.2" y="673.7" width="29.70" height="125.90" fill="#a1a1a4" stroke="#0c0c12" stroke-width="1.2"/>
<line x1="478.6" y1="696.7" x2="478.6" y2="703.1" stroke="#0c0c12" stroke-width="1.3" stroke-linecap="butt"/>
<line x1="471" y1="696.7" x2="486.2" y2="696.7" stroke="#0c0c12" stroke-width="1.3" stroke-linecap="butt"/>
<rect x="464.5" y="703.1" width="29.00" height="96.50" fill="#323232" stroke="#0c0c12" stroke-width="1.2"/>
<line x1="412" y1="667.0" x2="412" y2="800.5" stroke="#0c0c12" stroke-width="1.8" stroke-linecap="butt"/>
<line x1="406.8" y1="799.6" x2="502" y2="799.6" stroke="#0c0c12" stroke-width="1.8" stroke-linecap="butt"/>
<line x1="406.8" y1="667.5" x2="412" y2="667.5" stroke="#0c0c12" stroke-width="1.5" stroke-linecap="butt"/>
<text x="0" y="0" font-size="9.5" font-weight="bold" text-anchor="end" fill="#10101c" transform="translate(406.5 670.9050000000001) scale(1 1.1)">450</text>
<line x1="406.8" y1="711" x2="412" y2="711" stroke="#0c0c12" stroke-width="1.5" stroke-linecap="butt"/>
<text x="0" y="0" font-size="9.5" font-weight="bold" text-anchor="end" fill="#10101c" transform="translate(406.5 714.4050000000001) scale(1 1.1)">300</text>
<line x1="406.8" y1="755.3" x2="412" y2="755.3" stroke="#0c0c12" stroke-width="1.5" stroke-linecap="butt"/>
<text x="0" y="0" font-size="9.5" font-weight="bold" text-anchor="end" fill="#10101c" transform="translate(406.5 758.705) scale(1 1.1)">150</text>
<line x1="406.8" y1="799.6" x2="412" y2="799.6" stroke="#0c0c12" stroke-width="1.5" stroke-linecap="butt"/>
<text x="0" y="0" font-size="9.5" font-weight="bold" text-anchor="end" fill="#10101c" transform="translate(406.5 803.0050000000001) scale(1 1.1)">0</text>
<line x1="433.2" y1="799.6" x2="433.2" y2="805.0" stroke="#0c0c12" stroke-width="1.5" stroke-linecap="butt"/>
<text x="0" y="0" font-size="8.4" font-weight="bold" text-anchor="middle" fill="#10101c" transform="translate(434.0 813.0) scale(1 1.12)">C</text>
<line x1="478.7" y1="799.6" x2="478.7" y2="805.0" stroke="#0c0c12" stroke-width="1.5" stroke-linecap="butt"/>
<text x="0" y="0" font-size="8.4" font-weight="bold" text-anchor="middle" fill="#10101c" transform="translate(478.4 813.0) scale(1 1.12)">B</text>
<text x="384.8" y="733.4" font-size="10.8" font-weight="bold" text-anchor="middle" fill="#10101c" transform="rotate(-90 384.8 733.4)" textLength="63" lengthAdjust="spacingAndGlyphs">SCD1/HPRT</text>
<text x="435.2" y="653" font-size="10.8" font-weight="normal" text-anchor="start" fill="#1c1c2a" textLength="44" lengthAdjust="spacingAndGlyphs" stroke="#1c1c2a" stroke-width="0.25">p=0.003</text>
<line x1="431.2" y1="660" x2="476.2" y2="660" stroke="#0c0c12" stroke-width="1.3" stroke-linecap="butt"/>
</svg>
</body>
</html>
